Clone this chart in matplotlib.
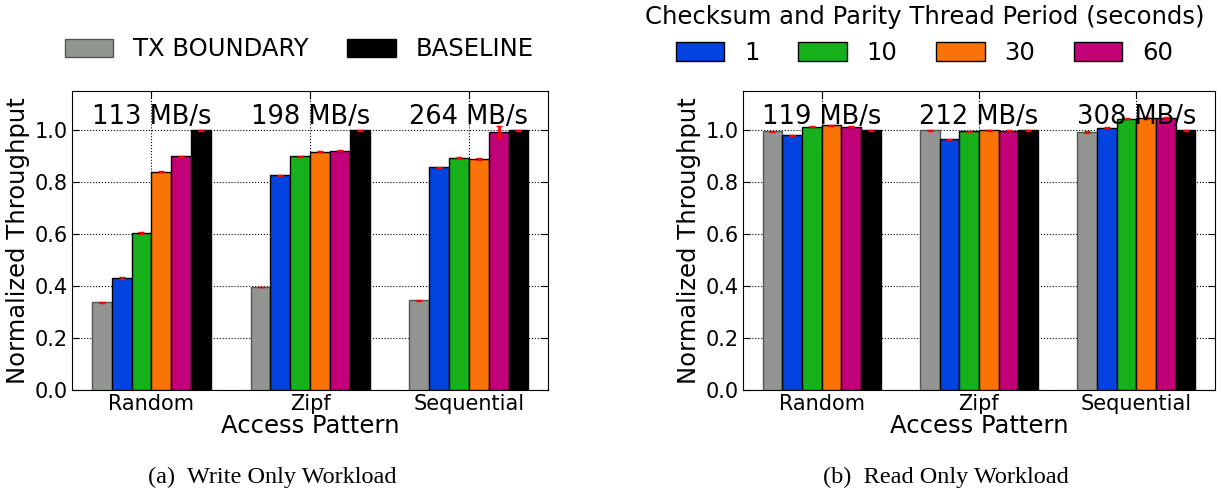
import matplotlib.pyplot as plt
import numpy as np

patterns = ['Random', 'Zipf', 'Sequential']
series = ['TX BOUNDARY', '1', '10', '30', '60', 'BASELINE']
colors = ['#929591', '#0343df', '#15b01a', '#f97306', '#c20078', '#000000']

# write only workload, normalized to baseline
write_vals = [
    [0.338, 0.397, 0.345],   # TX BOUNDARY
    [0.430, 0.827, 0.857],   # 1
    [0.605, 0.900, 0.893],   # 10
    [0.840, 0.917, 0.890],   # 30
    [0.900, 0.920, 0.993],   # 60
    [1.000, 1.000, 1.000],   # BASELINE
]
write_err = [
    [0.002, 0.001, 0.002],
    [0.003, 0.002, 0.003],
    [0.004, 0.002, 0.002],
    [0.002, 0.003, 0.004],
    [0.002, 0.002, 0.023],
    [0.002, 0.002, 0.002],
]
write_mbs = ['113 MB/s', '198 MB/s', '264 MB/s']

# read only workload
read_vals = [
    [0.996, 1.000, 0.992],
    [0.980, 0.964, 1.010],
    [1.013, 0.995, 1.043],
    [1.018, 1.000, 1.045],
    [1.013, 0.998, 1.047],
    [1.000, 1.000, 1.000],
]
read_err = [
    [0.002, 0.002, 0.003],
    [0.002, 0.002, 0.002],
    [0.002, 0.002, 0.002],
    [0.003, 0.002, 0.004],
    [0.002, 0.002, 0.002],
    [0.002, 0.002, 0.002],
]
read_mbs = ['119 MB/s', '212 MB/s', '308 MB/s']

plt.rcParams['font.family'] = 'DejaVu Sans'
fig = plt.figure(figsize=(12.21, 4.94), dpi=100)
ax1 = fig.add_axes([0.059, 0.2105, 0.390, 0.605])
ax2 = fig.add_axes([0.6085, 0.2105, 0.3866, 0.605])

x = np.arange(len(patterns))
w = 0.125

def draw(ax, vals, errs, labels):
    handles = []
    for i in range(len(series)):
        ec = '#555555' if i == 0 else 'black'
        b = ax.bar(x - 2.5 * w + i * w, vals[i], w, color=colors[i], edgecolor=ec,
                   linewidth=1, label=series[i], zorder=3,
                   yerr=errs[i], error_kw=dict(ecolor='red', elinewidth=2, capsize=2, capthick=1, zorder=4))
        handles.append(b)
    for j in range(len(patterns)):
        ax.text(x[j], 1.05, labels[j], ha='center', va='center', fontsize=18.5, zorder=5)
    ax.set_xlim(-0.5, 2.5)
    ax.set_ylim(0, 1.15)
    ax.set_yticks([0.0, 0.2, 0.4, 0.6, 0.8, 1.0])
    ax.set_yticklabels(['0.0', '0.2', '0.4', '0.6', '0.8', '1.0'], fontsize=15)
    ax.set_xticks(x)
    ax.set_xticklabels(patterns, fontsize=15)
    ax.tick_params(direction='in', top=True, right=True, length=5, pad=3)
    ax.grid(True, linestyle=':', color='black', linewidth=0.8, zorder=0)
    ax.set_axisbelow(True)
    ax.set_ylabel('Normalized Throughput', fontsize=17.5, labelpad=3)
    ax.set_xlabel('Access Pattern', fontsize=17.5, labelpad=0)
    return handles

h1 = draw(ax1, write_vals, write_err, write_mbs)
h2 = draw(ax2, read_vals, read_err, read_mbs)

fig.legend([h1[0], h1[5]], ['TX BOUNDARY', 'BASELINE'], loc='center', bbox_to_anchor=(0.245, 0.9),
           ncol=2, frameon=False, fontsize=17.5, handlelength=2.0, handleheight=0.8, columnspacing=1.6)
leg = fig.legend(h2[1:5], ['1', '10', '30', '60'], loc='center', bbox_to_anchor=(0.757, 0.93),
                 ncol=4, frameon=False, fontsize=17.5, handlelength=2.0, handleheight=0.8, columnspacing=1.6,
                 title='Checksum and Parity Thread Period (seconds)', title_fontsize=17.5)

fig.text(0.223, 0.022, '(a)  Write Only Workload', ha='center', fontsize=17.5, family='Liberation Serif')
fig.text(0.775, 0.022, '(b)  Read Only Workload', ha='center', fontsize=17.5, family='Liberation Serif')

plt.savefig('out.png', dpi=100)
